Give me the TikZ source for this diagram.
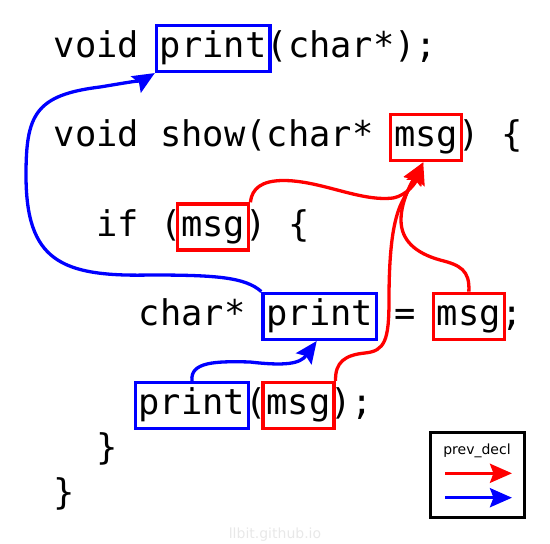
\documentclass[tikz,border=0pt]{standalone}
\usepackage{fontspec}
\newfontfamily\codefont{DejaVu Sans Mono}
\newfontfamily\labelfont{DejaVu Sans}
\usetikzlibrary{arrows.meta}

\begin{document}
\begin{tikzpicture}[x=1pt, y=-1pt,
    code/.style={anchor=base west, inner sep=0pt, font=\codefont\fontsize{35.4pt}{42pt}\selectfont},
    word/.style={anchor=base, draw=#1, line width=3.3pt, inner xsep=3.5pt, inner ysep=0pt,
        text height=32.3pt, text depth=13.8pt, font=\codefont\fontsize{35.4pt}{42pt}\selectfont},
    link/.style={#1, line width=3.3pt, -{Stealth[length=22pt, width=19pt, inset=3.5pt]}},
    small/.style={font=\labelfont\fontsize{14pt}{16pt}\selectfont}]
    \useasboundingbox (0,0) rectangle (550,544);
    %%Code lines
    \node[code] (declA) at (53.5,57.6) {void};
    \node[word=blue] (printA) at (213.25,57.6) {print};
    \node[code] (declB) at (266.5,57.6) {(char*);};
    \node[code] (showA) at (53.5,146.9) {void show(char*};
    \node[word=red] (msgA) at (426.25,146.9) {msg};
    \node[code] (showB) at (458.2,146.9) {) \{};
    \node[code] (ifA) at (96.1,236.2) {if (};
    \node[word=red] (msgB) at (213.25,236.2) {msg};
    \node[code] (ifB) at (245.2,236.2) {) \{};
    \node[code] (localA) at (138.7,325.5) {char*};
    \node[word=blue] (printB) at (319.75,325.5) {print};
    \node[code] (localB) at (394.3,325.5) {=};
    \node[word=red] (msgC) at (468.85,325.5) {msg};
    \node[code] (localC) at (500.8,325.5) {;};
    \node[word=blue] (printC) at (191.95,414.8) {print};
    \node[code] (callA) at (245.2,414.8) {(};
    \node[word=red] (msgD) at (298.45,414.8) {msg};
    \node[code] (callB) at (330.4,414.8) {);};
    \node[code] (closeA) at (96.1,459.5) {\}};
    \node[code] (closeB) at (53.5,504.1) {\}};
    %%Blue links
    \draw[link=blue] (printB.north west) .. controls (245,277) and (215,275) .. (150,275)
        .. controls (60,277) and (26,260) .. (26,175)
        .. controls (26,115) and (35,95) .. (100,87)
        .. controls (125,83) and (145,79) .. (printA.south west);
    \draw[link=blue] (printC.north) .. controls (190,362) and (215,361) .. (250,362)
        .. controls (285,366) and (300,364) .. ([xshift=-3pt]printB.south);
    %%Red links
    \draw[link=red] (msgB.north east) .. controls (252,188) and (262,181) .. (282,180.5)
        .. controls (320,180) and (360,202) .. (393,198)
        .. controls (408,195) and (416,182) .. ([xshift=-3pt]msgA.south);
    \draw[link=red] (msgC.north) .. controls (470,270) and (460,265) .. (440,260)
        .. controls (415,253) and (401,240) .. (401,220)
        .. controls (401,200) and (413,180) .. ([xshift=-3pt]msgA.south);
    \draw[link=red] (msgD.north east) .. controls (335,362) and (345,355) .. (365,353)
        .. controls (385,351) and (389,340) .. (389,300)
        .. controls (389,240) and (395,215) .. (403,200)
        .. controls (410,187) and (416,176) .. ([xshift=-3pt]msgA.south);
    %%Legend
    \node[draw, line width=3.3pt, minimum width=93.7pt, minimum height=85.3pt, inner sep=0pt] (legend) at (477.6,475.1) {};
    \node[small, anchor=base] (legendtitle) at (477,454) {prev\_decl};
    \coordinate (redA) at (445,473.3);
    \coordinate (redB) at (512,473.3);
    \coordinate (blueA) at (445,497.7);
    \coordinate (blueB) at (512,497.7);
    \draw[link=red] (redA) -- (redB);
    \draw[link=blue] (blueA) -- (blueB);
    \node[small, anchor=base, text=black!9] (site) at (275,538) {llbit.github.io};
\end{tikzpicture}
\end{document}
